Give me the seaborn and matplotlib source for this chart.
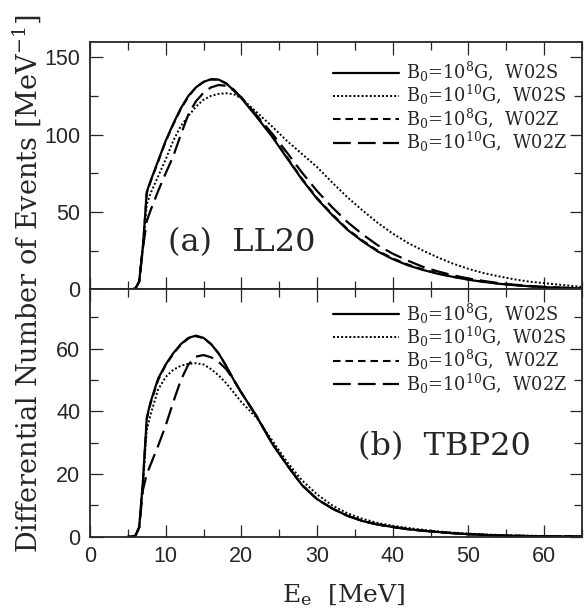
import numpy as np
import pandas as pd
import seaborn as sns
import matplotlib.pyplot as plt
from matplotlib.ticker import MultipleLocator

sns.set_style("ticks")
plt.rcParams["font.family"] = ["DejaVu Serif"]
plt.rcParams["mathtext.fontset"] = "dejavuserif"

# electron energy grid [MeV]
energy = [5, 5.5, 6, 6.5, 7, 7.5, 8, 9, 10, 11, 12, 13, 14, 15, 16, 17, 18, 19, 20,
          22, 24, 26, 28, 30, 32, 34, 36, 38, 40, 42, 44, 46, 48, 50, 52, 54, 56, 58,
          60, 62, 65]

# (a) LL20
ll20_b8_w02s = [0, 0, 0.5, 5, 28, 63, 70, 83, 96, 107, 117, 125, 130.5, 134, 135.8, 135.5,
                133, 128.5, 123.5, 111.5, 99, 85, 71, 58.5, 48, 38.5, 31, 24.5, 19.5, 15.5,
                12.5, 10, 8, 6.2, 4.8, 3.6, 2.7, 2, 1.4, 1, 0.6]
ll20_b10_w02s = [0, 0, 0.5, 5, 28, 55, 62, 73, 84, 96, 105.5, 112, 118, 122.5, 125, 126.3,
                 126.7, 126, 123.5, 114.5, 105.5, 96, 87.5, 79, 69, 59.5, 51, 43, 36, 30,
                 25, 20.5, 16.5, 13.2, 10.5, 8.4, 6.5, 5, 4, 3, 1.6]
ll20_b8_w02z = [0, 0, 0.5, 5, 28, 62, 69.5, 82.5, 95.5, 106.5, 116.5, 124.5, 130.5, 134,
                135.5, 135.5, 133, 129, 124, 112, 99.5, 85.5, 71.5, 59, 48.5, 39, 31.5, 25,
                20, 16, 12.8, 10.2, 8.1, 6.3, 4.9, 3.7, 2.8, 2, 1.4, 1, 0.6]
ll20_b10_w02z = [0, 0, 0.5, 5, 27, 44, 51, 63.5, 75, 86, 100, 113, 121.5, 127, 130.5, 132,
                 131.5, 128.5, 124, 112.5, 101, 88.5, 75.5, 63.5, 53, 43.5, 35.5, 28.5, 23,
                 18.5, 14.5, 11.5, 9, 7, 5.4, 4, 3, 2.2, 1.6, 1.1, 0.7]

# (b) TBP20
tbp20_b8_w02s = [0, 0, 0.3, 3, 18, 38, 43, 50.5, 55, 58.6, 61.5, 63.5, 64.2, 63.5, 61.5,
                 58.5, 54.5, 50, 46, 38.5, 30, 23, 16.5, 12, 9, 6.7, 5, 3.9, 3.1, 2.4, 1.9,
                 1.5, 1.1, 0.8, 0.6, 0.4, 0.3, 0.2, 0.15, 0.1, 0.05]
tbp20_b10_w02s = [0, 0, 0.3, 3, 17, 34, 39, 47, 51, 53.3, 54.6, 55.2, 55.4, 55, 53.5, 51.5,
                  49, 46, 43, 38, 31, 24, 18, 13.5, 10, 7.5, 5.7, 4.4, 3.5, 2.8, 2.2, 1.7,
                  1.3, 1, 0.75, 0.55, 0.4, 0.3, 0.22, 0.16, 0.1]
tbp20_b8_w02z = [0, 0, 0.3, 3, 18, 37.5, 42.5, 50, 54.8, 58.4, 61.3, 63.3, 64, 63.4, 61.5,
                 58.5, 54.5, 50, 46, 38.5, 30, 23, 16.5, 12, 9, 6.7, 5, 3.9, 3.1, 2.4, 1.9,
                 1.5, 1.1, 0.8, 0.6, 0.4, 0.3, 0.2, 0.15, 0.1, 0.05]
tbp20_b10_w02z = [0, 0, 0.3, 3, 15, 20, 23, 29, 35.5, 43, 50, 55, 57.5, 58, 57.3, 55.8,
                  53.5, 50, 46, 38.5, 30, 23, 16.5, 12, 9, 6.7, 5, 3.9, 3.1, 2.4, 1.9, 1.5,
                  1.1, 0.8, 0.6, 0.4, 0.3, 0.2, 0.15, 0.1, 0.05]

labels = [r"B$_0$=10$^{8}$G,  W02S", r"B$_0$=10$^{10}$G,  W02S",
          r"B$_0$=10$^{8}$G,  W02Z", r"B$_0$=10$^{10}$G,  W02Z"]

# line styles: solid, dotted, short dash, long dash
styles = [dict(linestyle="-", lw=1.6),
          dict(linestyle=(0, (1, 1.1)), lw=1.4),
          dict(linestyle=(0, (3.6, 2.4)), lw=1.5),
          dict(linestyle=(0, (8, 3.2)), lw=1.6)]

panels = [([ll20_b8_w02s, ll20_b10_w02s, ll20_b8_w02z, ll20_b10_w02z], 0.955),
          ([tbp20_b8_w02s, tbp20_b10_w02s, tbp20_b8_w02z, tbp20_b10_w02z], 0.98)]

fig = plt.figure(figsize=(5.84, 6.14), dpi=100)
ax1 = fig.add_axes([0.1541, 0.5288, 0.8425, 0.4033])
ax2 = fig.add_axes([0.1541, 0.1259, 0.8425, 0.4029], sharex=ax1)

for ax, (series, leg_y) in zip([ax1, ax2], panels):
    for vals, lab, st in zip(series, labels, styles):
        df = pd.DataFrame({"E": energy, "N": vals})
        sns.lineplot(data=df, x="E", y="N", ax=ax, color="black", label=lab,
                     sort=False, estimator=None, **st)
    ax.set_xlim(0, 65)
    ax.set_xlabel("")
    ax.set_ylabel("")
    ax.xaxis.set_major_locator(MultipleLocator(10))
    ax.xaxis.set_minor_locator(MultipleLocator(5))
    ax.tick_params(which="both", direction="in", top=True, right=True, width=0.9)
    ax.tick_params(which="major", length=9, pad=7)
    ax.tick_params(which="minor", length=5.5)
    for sp in ax.spines.values():
        sp.set_linewidth(1.3)
    ax.legend(loc="upper right", bbox_to_anchor=(0.985, leg_y), frameon=False,
              fontsize=12.8, handlelength=3.75, handletextpad=0.4, labelspacing=-0.05,
              borderaxespad=0.0)

ax1.set_ylim(0, 160)
ax1.yaxis.set_major_locator(MultipleLocator(50))
ax1.yaxis.set_minor_locator(MultipleLocator(25))
ax1.tick_params(labelbottom=False)
ax1.text(0.159, 0.187, "(a)  LL20", transform=ax1.transAxes, fontsize=23,
         ha="left", va="center")

ax2.set_ylim(0, 79)
ax2.yaxis.set_major_locator(MultipleLocator(20))
ax2.yaxis.set_minor_locator(MultipleLocator(10))
ax2.text(0.545, 0.363, "(b)  TBP20", transform=ax2.transAxes, fontsize=23,
         ha="left", va="center")

for t in ax1.get_yticklabels() + ax2.get_xticklabels() + ax2.get_yticklabels():
    t.set_family(["Liberation Sans"])
    t.set_fontsize(15.5)

fig.text(0.046, 0.538, r"Differential Number of Events [MeV$^{-1}$]", rotation=90,
         ha="center", va="center", fontsize=19.5)
fig.text(0.588, 0.03, r"E$_\mathregular{e}$  [MeV]", ha="center", va="center", fontsize=18)

fig.savefig("out.png", dpi=100)
